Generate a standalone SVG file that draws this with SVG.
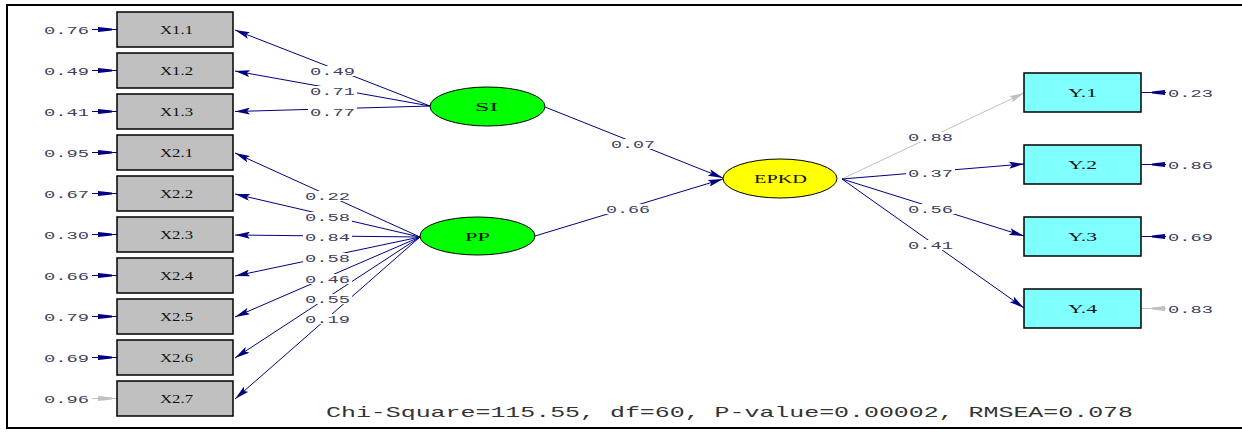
<svg xmlns="http://www.w3.org/2000/svg" width="1242" height="432" viewBox="0 0 1242 432">
<style>
.box{fill:#c0c0c0;stroke:#000;stroke-width:1.5}
.ybox{fill:#80ffff;stroke:#000;stroke-width:1.5}
.lat{stroke:#000;stroke-width:1}
.ln{stroke:#000080;stroke-width:1;fill:none}
.lg{stroke:#c0c0c0;stroke-width:1;fill:none}
.num{font-family:"Liberation Mono",monospace;font-size:11px;fill:#404060}
.nm{font-family:"Liberation Serif",serif;font-size:13px;fill:#111}
.lb{fill:#fff}
.eh{fill:#000080}
.ehg{fill:#c0c0c0}
</style>
<defs>
<marker id="ah" markerUnits="userSpaceOnUse" markerWidth="15" markerHeight="7" refX="15" refY="3.5" orient="auto"><path d="M0,0 L15,3.5 L0,7 L3,3.5 z" fill="#000080"/></marker>
<marker id="ahg" markerUnits="userSpaceOnUse" markerWidth="15" markerHeight="7" refX="15" refY="3.5" orient="auto"><path d="M0,0 L15,3.5 L0,7 L3,3.5 z" fill="#c0c0c0"/></marker>
</defs>
<rect x="0" y="0" width="1242" height="432" fill="#fff"/>
<rect x="7" y="5" width="1240" height="423" fill="none" stroke="#000" stroke-width="2"/>

<g id="connectors">
<line class="ln" x1="430" y1="106" x2="235" y2="30" marker-end="url(#ah)"/>
<line class="ln" x1="430" y1="106" x2="235" y2="71" marker-end="url(#ah)"/>
<line class="ln" x1="430" y1="106" x2="235" y2="111.5" marker-end="url(#ah)"/>
<line class="ln" x1="420" y1="237" x2="235" y2="153" marker-end="url(#ah)"/>
<line class="ln" x1="420" y1="237" x2="235" y2="194" marker-end="url(#ah)"/>
<line class="ln" x1="420" y1="237" x2="235" y2="235" marker-end="url(#ah)"/>
<line class="ln" x1="420" y1="237" x2="235" y2="276" marker-end="url(#ah)"/>
<line class="ln" x1="420" y1="237" x2="235" y2="317" marker-end="url(#ah)"/>
<line class="ln" x1="420" y1="237" x2="235" y2="358" marker-end="url(#ah)"/>
<line class="ln" x1="420" y1="237" x2="235" y2="399" marker-end="url(#ah)"/>
<line class="ln" x1="545" y1="107" x2="723" y2="178" marker-end="url(#ah)"/>
<line class="ln" x1="535" y1="236" x2="723" y2="179" marker-end="url(#ah)"/>
<line class="lg" x1="842" y1="179" x2="1024" y2="93" marker-end="url(#ahg)"/>
<line class="ln" x1="842" y1="179" x2="1024" y2="164" marker-end="url(#ah)"/>
<line class="ln" x1="842" y1="179" x2="1024" y2="236" marker-end="url(#ah)"/>
<line class="ln" x1="842" y1="179" x2="1024" y2="308" marker-end="url(#ah)"/>
<g id="errors-x">
<line class="ln" x1="92" y1="29.5" x2="117" y2="29.5"/><polygon class="eh" points="98,27 112,28.5 112,30.5 98,32"/>
<line class="ln" x1="92" y1="70.5" x2="117" y2="70.5"/><polygon class="eh" points="98,68 112,69.5 112,71.5 98,73"/>
<line class="ln" x1="92" y1="111.5" x2="117" y2="111.5"/><polygon class="eh" points="98,109 112,110.5 112,112.5 98,114"/>
<line class="ln" x1="92" y1="152.5" x2="117" y2="152.5"/><polygon class="eh" points="98,150 112,151.5 112,153.5 98,155"/>
<line class="ln" x1="92" y1="193.5" x2="117" y2="193.5"/><polygon class="eh" points="98,191 112,192.5 112,194.5 98,196"/>
<line class="ln" x1="92" y1="234.5" x2="117" y2="234.5"/><polygon class="eh" points="98,232 112,233.5 112,235.5 98,237"/>
<line class="ln" x1="92" y1="275.5" x2="117" y2="275.5"/><polygon class="eh" points="98,273 112,274.5 112,276.5 98,278"/>
<line class="ln" x1="92" y1="316.5" x2="117" y2="316.5"/><polygon class="eh" points="98,314 112,315.5 112,317.5 98,319"/>
<line class="ln" x1="92" y1="357.5" x2="117" y2="357.5"/><polygon class="eh" points="98,355 112,356.5 112,358.5 98,360"/>
<line class="lg" x1="92" y1="398.5" x2="117" y2="398.5"/><polygon class="ehg" points="98,396 112,397.5 112,399.5 98,401"/>
</g>
<g id="errors-y">
<line class="ln" x1="1141" y1="92.5" x2="1166" y2="92.5"/><polygon class="eh" points="1152,91.5 1165,90 1165,95 1152,93.5"/>
<line class="ln" x1="1141" y1="164.5" x2="1166" y2="164.5"/><polygon class="eh" points="1152,163.5 1165,162 1165,167 1152,165.5"/>
<line class="ln" x1="1141" y1="236.5" x2="1166" y2="236.5"/><polygon class="eh" points="1152,235.5 1165,234 1165,239 1152,237.5"/>
<line class="lg" x1="1141" y1="308.5" x2="1166" y2="308.5"/><polygon class="ehg" points="1152,307.5 1165,306 1165,311 1152,309.5"/>
</g>
<g id="path-labels">
<rect class="lb" x="308" y="66" width="49" height="10"/><text class="num" x="310" y="74.5" textLength="45" lengthAdjust="spacingAndGlyphs">0.49</text>
<rect class="lb" x="308" y="86" width="49" height="10"/><text class="num" x="310" y="94.5" textLength="45" lengthAdjust="spacingAndGlyphs">0.71</text>
<rect class="lb" x="308" y="107" width="49" height="10"/><text class="num" x="310" y="115.5" textLength="45" lengthAdjust="spacingAndGlyphs">0.77</text>
<rect class="lb" x="303" y="191" width="49" height="10"/><text class="num" x="305" y="199.5" textLength="45" lengthAdjust="spacingAndGlyphs">0.22</text>
<rect class="lb" x="303" y="212" width="49" height="10"/><text class="num" x="305" y="220.5" textLength="45" lengthAdjust="spacingAndGlyphs">0.58</text>
<rect class="lb" x="303" y="232" width="49" height="10"/><text class="num" x="305" y="240.5" textLength="45" lengthAdjust="spacingAndGlyphs">0.84</text>
<rect class="lb" x="303" y="253" width="49" height="10"/><text class="num" x="305" y="261.5" textLength="45" lengthAdjust="spacingAndGlyphs">0.58</text>
<rect class="lb" x="303" y="274" width="49" height="10"/><text class="num" x="305" y="282.5" textLength="45" lengthAdjust="spacingAndGlyphs">0.46</text>
<rect class="lb" x="303" y="294" width="49" height="10"/><text class="num" x="305" y="302.5" textLength="45" lengthAdjust="spacingAndGlyphs">0.55</text>
<rect class="lb" x="303" y="314" width="49" height="10"/><text class="num" x="305" y="322.5" textLength="45" lengthAdjust="spacingAndGlyphs">0.19</text>
<rect class="lb" x="609" y="139" width="49" height="10"/><text class="num" x="611" y="147.5" textLength="44" lengthAdjust="spacingAndGlyphs">0.07</text>
<rect class="lb" x="604" y="204" width="49" height="10"/><text class="num" x="606" y="212.5" textLength="44" lengthAdjust="spacingAndGlyphs">0.66</text>
<rect class="lb" x="906" y="132" width="49" height="10"/><text class="num" x="908" y="140.5" textLength="45" lengthAdjust="spacingAndGlyphs">0.88</text>
<rect class="lb" x="906" y="168" width="49" height="10"/><text class="num" x="908" y="176.5" textLength="45" lengthAdjust="spacingAndGlyphs">0.37</text>
<rect class="lb" x="906" y="204" width="49" height="10"/><text class="num" x="908" y="212.5" textLength="45" lengthAdjust="spacingAndGlyphs">0.56</text>
<rect class="lb" x="906" y="240" width="49" height="10"/><text class="num" x="908" y="248.5" textLength="45" lengthAdjust="spacingAndGlyphs">0.41</text>
</g>
</g>

<g id="error-labels">
<text class="num" x="44" y="34" textLength="45" lengthAdjust="spacingAndGlyphs">0.76</text>
<text class="num" x="44" y="75" textLength="45" lengthAdjust="spacingAndGlyphs">0.49</text>
<text class="num" x="44" y="116" textLength="45" lengthAdjust="spacingAndGlyphs">0.41</text>
<text class="num" x="44" y="157" textLength="45" lengthAdjust="spacingAndGlyphs">0.95</text>
<text class="num" x="44" y="198" textLength="45" lengthAdjust="spacingAndGlyphs">0.67</text>
<text class="num" x="44" y="239" textLength="45" lengthAdjust="spacingAndGlyphs">0.30</text>
<text class="num" x="44" y="280" textLength="45" lengthAdjust="spacingAndGlyphs">0.66</text>
<text class="num" x="44" y="321" textLength="45" lengthAdjust="spacingAndGlyphs">0.79</text>
<text class="num" x="44" y="362" textLength="45" lengthAdjust="spacingAndGlyphs">0.69</text>
<text class="num" x="44" y="403" textLength="45" lengthAdjust="spacingAndGlyphs">0.96</text>
<text class="num" x="1168" y="97" textLength="45" lengthAdjust="spacingAndGlyphs">0.23</text>
<text class="num" x="1168" y="169" textLength="45" lengthAdjust="spacingAndGlyphs">0.86</text>
<text class="num" x="1168" y="241" textLength="45" lengthAdjust="spacingAndGlyphs">0.69</text>
<text class="num" x="1168" y="313" textLength="45" lengthAdjust="spacingAndGlyphs">0.83</text>
</g>

<g id="X1.1"><rect class="box" x="117" y="12" width="116" height="35"/><text class="nm" x="160" y="34" textLength="33" lengthAdjust="spacingAndGlyphs">X1.1</text></g>
<g id="X1.2"><rect class="box" x="117" y="53" width="116" height="35"/><text class="nm" x="160" y="75" textLength="33" lengthAdjust="spacingAndGlyphs">X1.2</text></g>
<g id="X1.3"><rect class="box" x="117" y="94" width="116" height="35"/><text class="nm" x="160" y="116" textLength="33" lengthAdjust="spacingAndGlyphs">X1.3</text></g>
<g id="X2.1"><rect class="box" x="117" y="135" width="116" height="35"/><text class="nm" x="160" y="157" textLength="33" lengthAdjust="spacingAndGlyphs">X2.1</text></g>
<g id="X2.2"><rect class="box" x="117" y="176" width="116" height="35"/><text class="nm" x="160" y="198" textLength="33" lengthAdjust="spacingAndGlyphs">X2.2</text></g>
<g id="X2.3"><rect class="box" x="117" y="217" width="116" height="35"/><text class="nm" x="160" y="239" textLength="33" lengthAdjust="spacingAndGlyphs">X2.3</text></g>
<g id="X2.4"><rect class="box" x="117" y="258" width="116" height="35"/><text class="nm" x="160" y="280" textLength="33" lengthAdjust="spacingAndGlyphs">X2.4</text></g>
<g id="X2.5"><rect class="box" x="117" y="299" width="116" height="35"/><text class="nm" x="160" y="321" textLength="33" lengthAdjust="spacingAndGlyphs">X2.5</text></g>
<g id="X2.6"><rect class="box" x="117" y="340" width="116" height="35"/><text class="nm" x="160" y="362" textLength="33" lengthAdjust="spacingAndGlyphs">X2.6</text></g>
<g id="X2.7"><rect class="box" x="117" y="381" width="116" height="35"/><text class="nm" x="160" y="403" textLength="33" lengthAdjust="spacingAndGlyphs">X2.7</text></g>

<g id="SI"><ellipse class="lat" cx="487.5" cy="106.5" rx="57.5" ry="19.5" fill="#00ff00"/><text class="nm" x="475" y="111" textLength="23" lengthAdjust="spacingAndGlyphs">SI</text></g>
<g id="PP"><ellipse class="lat" cx="477.5" cy="236" rx="57.5" ry="19" fill="#00ff00"/><text class="nm" x="465" y="241" textLength="25" lengthAdjust="spacingAndGlyphs">PP</text></g>
<g id="EPKD"><ellipse class="lat" cx="780" cy="178.5" rx="57" ry="19.5" fill="#ffff00"/><text class="nm" x="754" y="183" textLength="53" lengthAdjust="spacingAndGlyphs">EPKD</text></g>

<g id="Y.1"><rect class="ybox" x="1024" y="73" width="117" height="39"/><text class="nm" x="1068" y="97" textLength="29" lengthAdjust="spacingAndGlyphs">Y.1</text></g>
<g id="Y.2"><rect class="ybox" x="1024" y="145" width="117" height="39"/><text class="nm" x="1068" y="169" textLength="29" lengthAdjust="spacingAndGlyphs">Y.2</text></g>
<g id="Y.3"><rect class="ybox" x="1024" y="217" width="117" height="39"/><text class="nm" x="1068" y="241" textLength="29" lengthAdjust="spacingAndGlyphs">Y.3</text></g>
<g id="Y.4"><rect class="ybox" x="1024" y="289" width="117" height="39"/><text class="nm" x="1068" y="313" textLength="29" lengthAdjust="spacingAndGlyphs">Y.4</text></g>

<text x="326" y="417" font-family="'Liberation Mono',monospace" font-size="15" fill="#333" textLength="807" lengthAdjust="spacingAndGlyphs">Chi-Square=115.55, df=60, P-value=0.00002, RMSEA=0.078</text>
</svg>
